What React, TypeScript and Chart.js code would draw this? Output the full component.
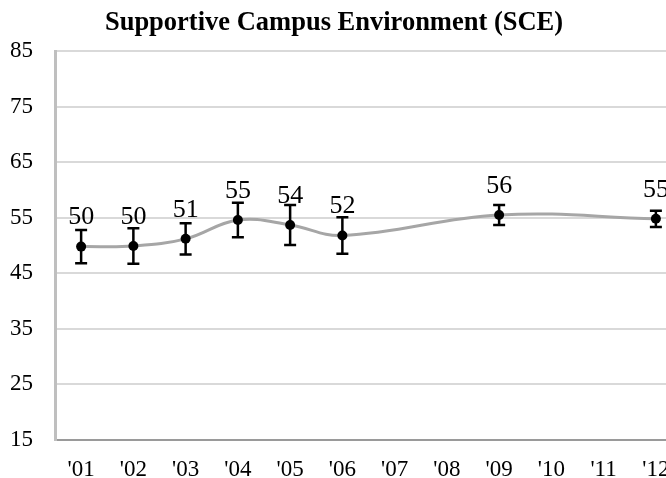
import React, { useEffect, useRef } from 'react';
import { Chart, registerables } from 'chart.js';

Chart.register(...registerables);

const chartTitle = 'Supportive Campus Environment (SCE)';
const years = ["'01", "'02", "'03", "'04", "'05", "'06", "'07", "'08", "'09", "'10", "'11", "'12"];
const sceMeans: (number | null)[] = [49.8, 49.9, 51.2, 54.6, 53.7, 51.8, null, null, 55.5, null, null, 54.8];
const sceErrors: (number | null)[] = [3.0, 3.2, 2.8, 3.1, 3.6, 3.3, null, null, 1.8, null, null, 1.45];
const yMin = 15;
const yMax = 85;
const yStep = 10;

const FONT = '"Liberation Serif", "Times New Roman", serif';

const errorBarPlugin = {
  id: 'errorBarsAndLabels',
  afterDatasetsDraw(chart: any) {
    const ctx = chart.ctx;
    const meta = chart.getDatasetMeta(0);
    const yScale = chart.scales.y;
    ctx.save();
    ctx.strokeStyle = '#000';
    ctx.lineWidth = 2.5;
    meta.data.forEach((pt: any, i: number) => {
      const m = sceMeans[i];
      const e = sceErrors[i];
      if (m == null || e == null) return;
      const x = pt.x;
      const yt = yScale.getPixelForValue(m + e);
      const yb = yScale.getPixelForValue(m - e);
      ctx.beginPath();
      ctx.moveTo(x, yt);
      ctx.lineTo(x, yb);
      ctx.moveTo(x - 6, yt);
      ctx.lineTo(x + 6, yt);
      ctx.moveTo(x - 6, yb);
      ctx.lineTo(x + 6, yb);
      ctx.stroke();
    });
    ctx.fillStyle = '#000';
    ctx.font = `26px ${FONT}`;
    ctx.textAlign = 'center';
    ctx.textBaseline = 'middle';
    meta.data.forEach((pt: any, i: number) => {
      const m = sceMeans[i];
      if (m == null) return;
      ctx.fillText(String(Math.round(m)), pt.x, pt.y - 29);
    });
    ctx.restore();
  },
};

const titlePlugin = {
  id: 'customTitle',
  afterDraw(chart: any) {
    const ctx = chart.ctx;
    ctx.save();
    ctx.fillStyle = '#000';
    ctx.font = `bold 26.5px ${FONT}`;
    ctx.textAlign = 'center';
    ctx.textBaseline = 'alphabetic';
    ctx.fillText(chartTitle, 334, 30);
    ctx.restore();
  },
};

export default function App() {
  const ref = useRef<HTMLCanvasElement | null>(null);
  useEffect(() => {
    if (!ref.current) return;
    const chart = new Chart(ref.current, {
      type: 'line',
      data: {
        labels: years,
        datasets: [
          {
            data: sceMeans,
            borderColor: '#a6a6a6',
            borderWidth: 3,
            tension: 0.4,
            spanGaps: true,
            pointRadius: 5,
            pointBackgroundColor: '#000',
            pointBorderColor: '#000',
            pointBorderWidth: 0,
          },
        ],
      },
      options: {
        responsive: false,
        animation: false,
        layout: { padding: { top: 51, left: 10, right: 0, bottom: 0 } },
        plugins: {
          legend: { display: false },
          title: { display: false },
          tooltip: { enabled: false },
        },
        scales: {
          x: {
            offset: true,
            grid: { display: false, drawTicks: false },
            border: { display: true, color: '#9a9a9a', width: 2 },
            ticks: {
              color: '#000',
              padding: 16,
              font: { family: FONT, size: 23 },
              maxRotation: 0,
              autoSkip: false,
            },
            afterFit: (scale: any) => {
              scale.height = 44;
            },
          },
          y: {
            min: yMin,
            max: yMax,
            grid: { color: '#d9d9d9', lineWidth: 2, drawTicks: false },
            border: { display: true, color: '#bfbfbf', width: 3 },
            ticks: {
              stepSize: yStep,
              color: '#000',
              padding: 22,
              font: { family: FONT, size: 23 },
            },
            afterFit: (scale: any) => {
              scale.width = 45;
            },
          },
        },
      },
      plugins: [errorBarPlugin, titlePlugin],
    });
    return () => chart.destroy();
  }, []);

  return (
    <div style={{ position: 'fixed', left: 0, top: 0, width: 666, height: 478, overflow: 'hidden', background: '#fff' }}>
      <canvas ref={ref} width={687} height={484} style={{ display: 'block' }} />
    </div>
  );
}
